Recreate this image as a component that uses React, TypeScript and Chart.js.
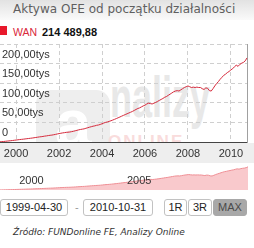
import React, { useEffect, useRef } from "react";
import { Chart, registerables } from "chart.js";

Chart.register(...registerables);

const TITLE = "Aktywa OFE od początku działalności";
const SERIES_NAME = "WAN";
const LAST_VALUE_TEXT = "214 489,88";
const START_DATE = "1999-04-30";
const END_DATE = "2010-10-31";
const SOURCE = "Źródło: FUNDonline FE, Analizy Online";
const RANGE_BUTTONS = ["1R", "3R", "MAX"];

// monthly values (tys), starting April 1999
const FIRST_YEAR = 1999;
const FIRST_MONTH = 4;
const V1999 = [0.5, 0.9, 1.3, 1.8, 2.3, 2.8, 3.3, 3.8, 4.4];
const V2000 = [5.0, 5.6, 6.2, 6.7, 7.2, 7.8, 8.4, 9.0, 9.5, 10.1, 10.8, 11.5];
const V2001 = [12.2, 13.0, 13.5, 14.2, 15.0, 15.6, 16.4, 17.1, 17.6, 18.5, 19.4, 20.5];
const V2002 = [21.5, 22.3, 23.2, 23.8, 24.6, 25.0, 25.5, 26.4, 27.3, 28.6, 29.8, 31.0];
const V2003 = [32.0, 32.8, 33.5, 35.0, 36.4, 37.8, 39.0, 40.3, 41.2, 42.6, 43.4, 44.8];
const V2004 = [46.5, 48.5, 50.0, 51.2, 52.6, 54.2, 56.0, 57.8, 59.8, 61.8, 63.8, 66.0];
const V2005 = [68.0, 70.0, 72.0, 74.0, 76.0, 78.0, 80.5, 83.0, 85.5, 87.0, 89.5, 92.0];
const V2006 = [94.0, 97.0, 99.0, 98.0, 97.0, 99.0, 101.0, 103.5, 106.0, 108.5, 111.0, 114.0];
const V2007 = [116.0, 119.0, 122.0, 125.0, 128.0, 130.0, 131.0, 130.0, 133.0, 136.0, 139.0, 141.0];
const V2008 = [143.0, 141.0, 139.0, 140.0, 139.0, 140.0, 139.0, 139.0, 136.0, 134.0, 138.0, 137.0];
const V2009 = [131.0, 130.0, 136.0, 143.0, 149.0, 154.0, 160.0, 165.0, 170.0, 173.0, 177.0, 180.0];
const V2010 = [184.0, 187.0, 192.0, 196.0, 193.0, 198.0, 201.0, 203.0, 207.0, 214.49];

const VALUES = [
  ...V1999, ...V2000, ...V2001, ...V2002, ...V2003, ...V2004,
  ...V2005, ...V2006, ...V2007, ...V2008, ...V2009, ...V2010,
];

const MONTHS: string[] = VALUES.map((_, i) => {
  const m = FIRST_MONTH - 1 + i;
  const y = FIRST_YEAR + Math.floor(m / 12);
  const mm = (m % 12) + 1;
  return `${y}-${String(mm).padStart(2, "0")}`;
});

const MAIN_TICK_YEARS = [2000, 2002, 2004, 2006, 2008, 2010];
const NAV_GRID_YEARS = [2000, 2005, 2010];
const NAV_LABEL_YEARS = [2000, 2005];
const Y_TICKS = [0, 50, 100, 150, 200, 250];

const FONT = "'Liberation Sans', Arial, sans-serif";

const isYearStart = (label: string, years: number[]) =>
  label.endsWith("-01") && years.includes(Number(label.slice(0, 4)));

const navLabelsPlugin = {
  id: "navLabels",
  afterDraw(chart: any) {
    const { ctx } = chart;
    const x = chart.scales.x;
    ctx.save();
    ctx.font = `11px ${FONT}`;
    ctx.fillStyle = "#333333";
    ctx.textBaseline = "middle";
    ctx.textAlign = "left";
    MONTHS.forEach((m, i) => {
      if (isYearStart(m, NAV_LABEL_YEARS)) {
        ctx.fillText(m.slice(0, 4), x.getPixelForValue(i) + 3, 18);
      }
    });
    ctx.restore();
  },
};

export default function App() {
  const mainRef = useRef<HTMLCanvasElement>(null);
  const navRef = useRef<HTMLCanvasElement>(null);

  useEffect(() => {
    const main = new Chart(mainRef.current!, {
      type: "line",
      data: {
        labels: MONTHS,
        datasets: [
          {
            label: SERIES_NAME,
            data: VALUES,
            borderColor: "#d52a3c",
            borderWidth: 1,
            pointRadius: 0,
            fill: false,
            tension: 0,
          },
        ],
      },
      options: {
        responsive: false,
        animation: false,
        events: [],
        layout: { padding: { left: 0, right: 3, top: 0, bottom: 0 } },
        plugins: { legend: { display: false }, tooltip: { enabled: false } },
        scales: {
          x: {
            type: "category",
            offset: false,
            afterFit: (s: any) => {
              s.height = 21;
              s.paddingLeft = 0;
              s.paddingRight = 0;
            },
            grid: {
              drawTicks: false,
              color: (c: any) =>
                isYearStart(MONTHS[c.index] || "", MAIN_TICK_YEARS) ? "#cfcfcf" : "rgba(0,0,0,0)",
            },
            border: { display: true, color: "#444444", width: 1, dash: [4, 3] },
            ticks: {
              autoSkip: false,
              maxRotation: 0,
              minRotation: 0,
              padding: 5,
              color: "#333333",
              font: { size: 11, family: FONT },
              callback: (_v: any, i: number) =>
                isYearStart(MONTHS[i], MAIN_TICK_YEARS) ? MONTHS[i].slice(0, 4) : "",
            },
          },
          y: {
            position: "left",
            min: 0,
            max: 250,
            afterBuildTicks: (s: any) => {
              s.ticks = Y_TICKS.map((v) => ({ value: v }));
            },
            afterFit: (s: any) => {
              s.paddingTop = 0;
              s.paddingBottom = 0;
              s.width = 0;
            },
            grid: {
              drawTicks: false,
              color: (c: any) => (c.tick && c.tick.value === 0 ? "rgba(0,0,0,0)" : "#cfcfcf"),
            },
            border: { display: false, dash: [4, 3] },
            ticks: {
              mirror: true,
              padding: 2,
              labelOffset: -9,
              color: "#333333",
              font: { size: 11, family: FONT },
              callback: (v: any) => (v === 0 ? "0" : v >= 250 ? "" : `${v},00tys`),
            },
          },
          y2: {
            position: "right",
            display: true,
            grid: { display: false, drawTicks: false },
            ticks: { display: false },
            border: { display: true, color: "#a0a0a0", width: 1 },
          },
        },
      },
    } as any);

    const nav = new Chart(navRef.current!, {
      type: "line",
      data: {
        labels: MONTHS,
        datasets: [
          {
            data: VALUES,
            borderColor: "#ef8e94",
            backgroundColor: "#f9c9cc",
            borderWidth: 1,
            pointRadius: 0,
            fill: "origin",
            tension: 0,
          },
        ],
      },
      options: {
        responsive: false,
        animation: false,
        events: [],
        layout: { padding: 0 },
        plugins: { legend: { display: false }, tooltip: { enabled: false } },
        scales: {
          x: {
            type: "category",
            offset: false,
            z: 1,
            afterFit: (s: any) => {
              s.height = 0;
              s.paddingLeft = 0;
              s.paddingRight = 0;
            },
            grid: {
              drawTicks: false,
              color: (c: any) =>
                isYearStart(MONTHS[c.index] || "", NAV_GRID_YEARS) ? "#ffffff" : "rgba(0,0,0,0)",
            },
            border: { display: false },
            ticks: { display: false, autoSkip: false, maxRotation: 0, minRotation: 0 },
          },
          y: { display: false, min: 0, max: 250 },
        },
      },
      plugins: [navLabelsPlugin],
    } as any);

    return () => {
      main.destroy();
      nav.destroy();
    };
  }, []);

  const boxBase: React.CSSProperties = {
    position: "absolute",
    top: 199,
    height: 17,
    boxSizing: "border-box",
    border: "1px solid #c2c2c2",
    borderRadius: 3,
    background: "#ffffff",
    color: "#222222",
    fontFamily: FONT,
    fontSize: 11,
    lineHeight: "15px",
    textAlign: "center",
  };

  const buttonLefts = [164, 188, 213];
  const buttonWidths = [23, 24, 34];

  return (
    <div
      style={{
        position: "fixed",
        left: 0,
        top: 0,
        width: 254,
        height: 248,
        background: "#ffffff",
        overflow: "hidden",
        fontFamily: FONT,
      }}
    >
      {/* title bar */}
      <div
        style={{
          position: "absolute",
          left: 0,
          top: 0,
          width: 254,
          height: 20,
          background: "linear-gradient(#e2e2e2, #fafafa)",
        }}
      />
      <div
        style={{
          position: "absolute",
          left: 13,
          top: 0,
          height: 18,
          lineHeight: "18px",
          fontFamily: "'DejaVu Sans', Verdana, sans-serif",
          fontSize: 12,
          color: "#5f5f5f",
          whiteSpace: "nowrap",
        }}
      >
        {TITLE}
      </div>

      {/* legend row */}
      <div style={{ position: "absolute", left: 0, top: 26, width: 7, height: 9, background: "#e8192c" }} />
      <div
        style={{
          position: "absolute",
          left: 13,
          top: 25,
          lineHeight: "14px",
          fontSize: 10.5,
          color: "#d9283a",
          whiteSpace: "nowrap",
        }}
      >
        {SERIES_NAME}
      </div>
      <div
        style={{
          position: "absolute",
          left: 42,
          top: 25,
          lineHeight: "14px",
          fontSize: 11,
          fontWeight: "bold",
          color: "#111111",
          whiteSpace: "nowrap",
        }}
      >
        {LAST_VALUE_TEXT}
      </div>

      {/* watermark */}
      <div
        style={{
          position: "absolute",
          left: 0,
          top: 44,
          width: 247,
          height: 98,
          overflow: "hidden",
        }}
      >
        <div
          style={{
            position: "absolute",
            left: 36,
            top: 46,
            width: 74,
            height: 74,
            borderRadius: 14,
            background: "#eeeeee",
            color: "#ffffff",
            fontWeight: "bold",
            fontSize: 66,
            lineHeight: "66px",
            textAlign: "center",
          }}
        >
          a
        </div>
        <div
          style={{
            position: "absolute",
            left: 110,
            top: 22,
            fontWeight: "bold",
            fontSize: 58,
            lineHeight: "62px",
            color: "#e8e8e8",
            transform: "scaleX(0.62)",
            transformOrigin: "0 0",
            whiteSpace: "nowrap",
          }}
        >
          nalizy
        </div>
        <div
          style={{
            position: "absolute",
            left: 108,
            top: 88,
            fontWeight: "bold",
            fontSize: 17,
            letterSpacing: 2,
            lineHeight: "20px",
            color: "#f9dcdc",
            whiteSpace: "nowrap",
          }}
        >
          ONLINE
        </div>
      </div>

      {/* x label band */}
      <div style={{ position: "absolute", left: 0, top: 143, width: 254, height: 20, background: "#eeeeee" }} />

      <canvas
        ref={mainRef}
        width={250}
        height={119}
        style={{ position: "absolute", left: 0, top: 44, width: 250, height: 119 }}
      />
      <canvas
        ref={navRef}
        width={248}
        height={27}
        style={{ position: "absolute", left: 0, top: 163, width: 248, height: 27 }}
      />

      {/* range inputs */}
      <div style={{ ...boxBase, left: 0, width: 68 }}>{START_DATE}</div>
      <div
        style={{
          position: "absolute",
          left: 75,
          top: 199,
          lineHeight: "16px",
          fontSize: 11,
          color: "#999999",
        }}
      >
        -
      </div>
      <div style={{ ...boxBase, left: 83, width: 70 }}>{END_DATE}</div>
      {RANGE_BUTTONS.map((b, i) => (
        <div
          key={b}
          style={{
            ...boxBase,
            left: buttonLefts[i],
            width: buttonWidths[i],
            ...(b === "MAX"
              ? { background: "#a8a8a8", border: "1px solid #a8a8a8", color: "#4a4a4a" }
              : {}),
          }}
        >
          {b}
        </div>
      ))}

      {/* source */}
      <div
        style={{
          position: "absolute",
          left: 13,
          top: 226,
          lineHeight: "12px",
          fontFamily: "'DejaVu Sans', Verdana, sans-serif",
          fontStyle: "italic",
          fontSize: 9,
          color: "#333333",
          whiteSpace: "nowrap",
        }}
      >
        {SOURCE}
      </div>
    </div>
  );
}
